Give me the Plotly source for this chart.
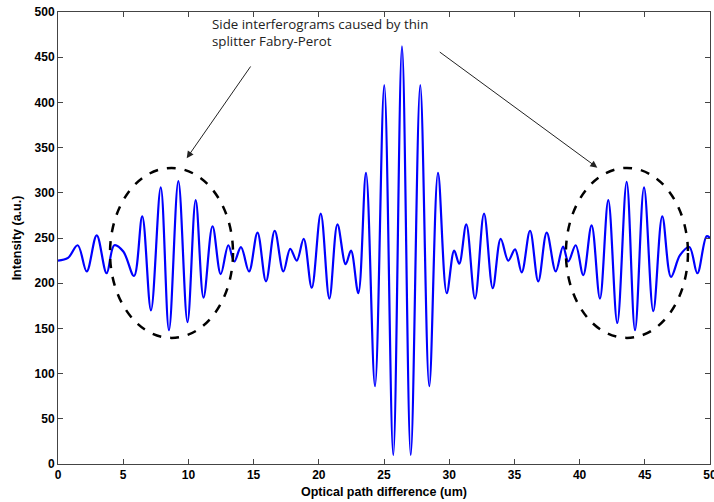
import plotly.graph_objects as go

# Local extrema / shape points
opd_um = [0.00, 0.77, 1.51, 2.20, 2.97, 3.73, 4.32, 5.01, 5.83, 6.46,
          7.13, 7.88, 8.51, 9.23, 9.93, 10.56, 11.16, 11.85, 12.48, 13.06,
          13.52, 14.03, 14.65, 15.30, 15.95, 16.62, 17.28, 17.81, 18.31, 18.84,
          19.46, 20.15, 20.81, 21.43, 22.06, 22.47, 23.03, 23.62, 24.31, 25.02,
          25.71, 26.38, 27.05, 27.78, 28.47, 29.14, 29.81, 30.38, 30.77, 31.31,
          31.98, 32.67, 33.34, 33.95, 34.53, 35.05, 35.56, 36.20, 36.83, 37.48,
          38.17, 38.73, 39.13, 39.70, 40.28, 40.92, 41.56, 42.20, 42.89, 43.61,
          44.25, 44.94, 45.65, 46.34, 47.01, 47.70, 48.41, 49.03, 49.74, 50.00]
intensity = [225, 228, 242, 213, 253, 211, 242, 235, 208, 274,
             170, 306, 148, 313, 157, 292, 184, 263, 210, 242,
             224, 240, 213, 256, 202, 258, 213, 238, 225, 249,
             195, 277, 183, 265, 221, 236, 189, 322, 86, 419,
             10, 462, 10, 419, 86, 322, 189, 236, 221.5, 265,
             183, 277, 194.5, 249, 225, 237.5, 212, 258, 202, 256,
             213, 240.5, 224, 242, 209, 264, 183, 292, 156, 312,
             148, 306, 169, 274, 207, 231, 240, 211, 252, 250]

x_ticks = [0, 5, 10, 15, 20, 25, 30, 35, 40, 45, 50]
y_ticks = [0, 50, 100, 150, 200, 250, 300, 350, 400, 450, 500]

note_text = "Side interferograms caused by thin<br>splitter Fabry-Perot"

fig = go.Figure()
fig.add_trace(go.Scatter(
    x=opd_um, y=intensity, mode="lines",
    line=dict(color="#0000FF", width=2.2, shape="spline", smoothing=1.0),
    hoverinfo="skip", showlegend=False,
))

# dashed ellipses
fig.add_shape(type="circle", xref="x", yref="y", x0=3.99, x1=13.42, y0=139.5, y1=327.5,
              line=dict(color="black", width=2.5, dash="dash"))
fig.add_shape(type="circle", xref="x", yref="y", x0=38.95, x1=48.31, y0=139.5, y1=327.5,
              line=dict(color="black", width=2.5, dash="dash"))

# text
fig.add_annotation(x=11.66, y=499, xref="x", yref="y", text=note_text, showarrow=False,
                   xanchor="left", yanchor="top", align="left",
                   font=dict(family="Open Sans", size=13.3, color="#222222"))
# arrows
fig.add_annotation(x=9.87, y=338.2, ax=14.85, ay=441.4, xref="x", yref="y", axref="x", ayref="y",
                   text="", showarrow=True, arrowhead=2, arrowsize=1.4, arrowwidth=1, arrowcolor="#222222")
fig.add_annotation(x=41.36, y=327.8, ax=29.16, ay=456.9, xref="x", yref="y", axref="x", ayref="y",
                   text="", showarrow=True, arrowhead=2, arrowsize=1.4, arrowwidth=1, arrowcolor="#222222")

axis_common = dict(
    showline=True, linecolor="#444444", linewidth=1, mirror="ticks",
    ticks="inside", ticklen=5, tickcolor="#444444", showgrid=False, zeroline=False,
    ticklabeloverflow="allow",
    tickfont=dict(family="Liberation Sans", size=12, color="black", weight="bold"),
)
fig.update_xaxes(range=[0, 50], tickvals=x_ticks, ticktext=[str(v) for v in x_ticks],
                 title=dict(text="<b>Optical path difference (um)</b>",
                            font=dict(family="Liberation Sans", size=12.5, color="black"), standoff=5),
                 **axis_common)
fig.update_yaxes(range=[0, 500], tickvals=y_ticks, ticktext=[str(v) for v in y_ticks],
                 title=dict(text="<b>Intensity (a.u.)</b>",
                            font=dict(family="Liberation Sans", size=12.5, color="black"), standoff=10),
                 **axis_common)
fig.update_layout(width=714, height=502, margin=dict(l=58, r=4, t=12, b=38, autoexpand=False),
                  paper_bgcolor="white", plot_bgcolor="white")
fig.write_html("out.html")
